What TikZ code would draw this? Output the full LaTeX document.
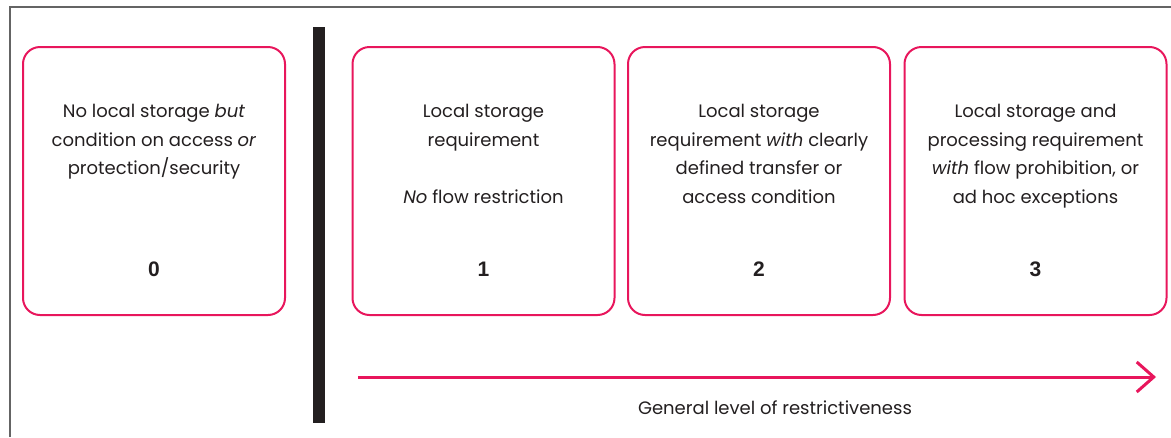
\documentclass[tikz,border=0pt]{standalone}
\usepackage{fontspec}
\setsansfont{Poppins}
\newfontfamily\numfont{Liberation Sans}
\usetikzlibrary{positioning,arrows.meta}

\tikzset{
  levelbox/.style={draw=custpink, line width=2pt, rounded corners=17pt,
    minimum width=262pt, minimum height=268pt, inner sep=0},
  leveltext/.style={inner sep=0, anchor=north, align=center, text=custgray,
    font=\fontsize{18pt}{28.5pt}\sffamily\selectfont},
  levelnum/.style={inner sep=0, anchor=south, text=custgray,
    font=\fontsize{21pt}{21pt}\numfont\bfseries\selectfont},
}

\begin{document}
\begin{tikzpicture}[x=1pt,y=-1pt]
\useasboundingbox (0,0) rectangle (1171,437);
\definecolor{custpink}{RGB}{232, 22, 92}
\definecolor{custgray}{RGB}{35, 31, 32}
\definecolor{custframe}{RGB}{100, 100, 100}
% frame and divider
\draw [line width=1.3pt, custframe] (10,437) -- (10,7) -- (1171,7);
\fill [custgray] (313,27) rectangle (325,423);
% level boxes
\node[levelbox] (lvl0) at (154,181) {};
\node[levelbox] (lvl1) at (483.5,181) {};
\node[levelbox] (lvl2) at (759,181) {};
\node[levelbox] (lvl3) at (1035.5,181) {};
\node[leveltext, below=58pt of lvl0.north] (txt0) {No local storage \textit{but}\\condition on access \textit{or}\\protection/security};
\node[leveltext, below=58pt of lvl1.north] (txt1) {Local storage\\requirement\\[28.5pt]\textit{No} flow restriction};
\node[leveltext, below=58pt of lvl2.north] (txt2) {Local storage\\requirement \textit{with} clearly\\defined transfer or\\access condition};
\node[leveltext, below=58pt of lvl3.north] (txt3) {Local storage and\\processing requirement\\\textit{with} flow prohibition, or\\ad hoc exceptions};
\node[levelnum, above=39pt of lvl0.south] (num0) {0};
\node[levelnum, above=39pt of lvl1.south] (num1) {1};
\node[levelnum, above=39pt of lvl2.south] (num2) {2};
\node[levelnum, above=39pt of lvl3.south] (num3) {3};
% restrictiveness arrow
\coordinate (arrtail) at (358,377);
\coordinate (arrtip) at (1156,377);
\draw [line width=3pt, custpink, -{Straight Barb[length=17pt,width=30pt,line cap=butt]}] (arrtail) -- (arrtip);
\node[leveltext, anchor=center] (restrict) at (775,408) {General level of restrictiveness};
\end{tikzpicture}
\end{document}
